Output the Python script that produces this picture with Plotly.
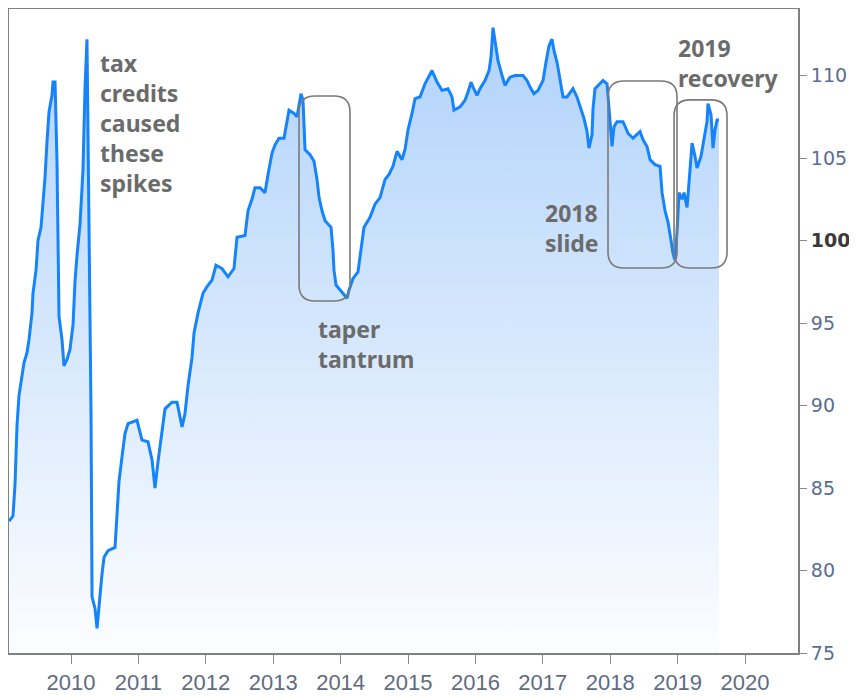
import plotly.graph_objects as go

# ---- data (decimal year, index value) ----
date_yr = [
    2009.082, 2009.139, 2009.169, 2009.184, 2009.199, 2009.228, 2009.273, 2009.303, 2009.347, 2009.377,
    2009.421, 2009.436, 2009.481, 2009.510, 2009.555, 2009.585, 2009.614, 2009.644, 2009.674, 2009.718,
    2009.733, 2009.763, 2009.792, 2009.807, 2009.822, 2009.866, 2009.896, 2009.941, 2009.985, 2010.030,
    2010.059, 2010.089, 2010.134, 2010.178, 2010.208, 2010.237, 2010.267, 2010.297, 2010.312, 2010.356,
    2010.386, 2010.430, 2010.460, 2010.490, 2010.549, 2010.653, 2010.682, 2010.712, 2010.757, 2010.801,
    2010.846, 2010.979, 2011.053, 2011.142, 2011.202, 2011.246, 2011.291, 2011.350, 2011.395, 2011.499,
    2011.573, 2011.647, 2011.691, 2011.736, 2011.795, 2011.825, 2011.884, 2011.958, 2012.018, 2012.092,
    2012.151, 2012.240, 2012.329, 2012.418, 2012.463, 2012.582, 2012.626, 2012.685, 2012.730, 2012.804,
    2012.878, 2012.923, 2012.982, 2013.027, 2013.086, 2013.160, 2013.205, 2013.234, 2013.309, 2013.353,
    2013.412, 2013.442, 2013.472, 2013.546, 2013.605, 2013.650, 2013.680, 2013.724, 2013.769, 2013.858,
    2013.887, 2013.902, 2013.932, 2014.021, 2014.095, 2014.125, 2014.184, 2014.258, 2014.303, 2014.347,
    2014.436, 2014.510, 2014.585, 2014.659, 2014.718, 2014.777, 2014.837, 2014.911, 2014.955, 2015.000,
    2015.059, 2015.104, 2015.178, 2015.252, 2015.356, 2015.430, 2015.504, 2015.593, 2015.653, 2015.682,
    2015.772, 2015.846, 2015.890, 2015.935, 2015.964, 2016.024, 2016.068, 2016.142, 2016.202, 2016.231,
    2016.261, 2016.291, 2016.335, 2016.395, 2016.439, 2016.513, 2016.588, 2016.706, 2016.766, 2016.810,
    2016.869, 2016.929, 2017.003, 2017.047, 2017.092, 2017.136, 2017.166, 2017.211, 2017.270, 2017.300,
    2017.359, 2017.448, 2017.507, 2017.567, 2017.611, 2017.656, 2017.685, 2017.730, 2017.745, 2017.774,
    2017.849, 2017.893, 2017.953, 2017.982, 2018.027, 2018.056, 2018.101, 2018.190, 2018.264, 2018.338,
    2018.398, 2018.442, 2018.487, 2018.546, 2018.591, 2018.665, 2018.739, 2018.769, 2018.813, 2018.858,
    2018.902, 2018.932, 2018.961, 2018.991, 2019.021, 2019.065, 2019.095, 2019.140, 2019.184, 2019.214,
    2019.258, 2019.288, 2019.347, 2019.392, 2019.436, 2019.451, 2019.496, 2019.525, 2019.555, 2019.585,
    2019.614,
]
index_val = [
    83.0, 83.3, 85.2, 86.9, 88.8, 90.6, 92.0, 92.6, 93.2, 94.0,
    95.6, 96.8, 98.2, 100.0, 100.8, 102.2, 103.8, 106.0, 107.8, 108.8,
    109.6, 109.6, 104.8, 100.1, 95.4, 94.0, 92.4, 92.8, 93.4, 94.9,
    97.5, 99.1, 101.0, 104.3, 109.3, 112.2, 100.8, 89.5, 78.4, 77.7,
    76.5, 78.6, 79.8, 80.8, 81.2, 81.4, 83.5, 85.4, 86.9, 88.3,
    88.9, 89.1, 87.9, 87.8, 86.7, 85.0, 86.6, 88.4, 89.8, 90.2,
    90.2, 88.7, 89.5, 91.2, 92.9, 94.4, 95.6, 96.8, 97.2, 97.6,
    98.5, 98.3, 97.8, 98.3, 100.2, 100.3, 101.8, 102.5, 103.2, 103.2,
    102.9, 104.0, 105.3, 105.8, 106.2, 106.2, 107.3, 107.9, 107.7, 107.5,
    108.9, 108.5, 105.5, 105.2, 104.8, 103.7, 102.6, 101.8, 101.2, 100.8,
    99.4, 98.2, 97.3, 96.9, 96.5, 97.0, 97.7, 98.1, 99.6, 100.8,
    101.4, 102.2, 102.6, 103.7, 104.0, 104.5, 105.4, 104.9, 105.5, 106.7,
    107.7, 108.6, 108.7, 109.5, 110.3, 109.6, 109.1, 109.2, 108.7, 107.9,
    108.1, 108.5, 109.0, 109.6, 109.3, 108.8, 109.2, 109.7, 110.3, 111.1,
    112.9, 112.0, 110.9, 110.0, 109.4, 109.9, 110.0, 110.0, 109.7, 109.3,
    108.9, 109.1, 109.7, 110.8, 111.8, 112.2, 111.5, 110.8, 109.3, 108.7,
    108.7, 109.2, 108.7, 108.0, 107.4, 106.6, 105.6, 106.4, 108.0, 109.2,
    109.5, 109.7, 109.5, 108.1, 105.7, 106.9, 107.2, 107.2, 106.5, 106.2,
    106.4, 106.6, 106.1, 105.7, 104.9, 104.6, 104.5, 102.9, 101.8, 101.1,
    100.0, 99.2, 98.8, 100.5, 102.9, 102.5, 102.9, 102.0, 104.3, 105.9,
    105.1, 104.4, 105.1, 106.1, 107.2, 108.3, 107.6, 105.6, 106.7, 107.3,
    107.3,
]

x_ticks = [2010, 2011, 2012, 2013, 2014, 2015, 2016, 2017, 2018, 2019, 2020]
x_tick_labels = [str(v) for v in x_ticks]
y_ticks = [75, 80, 85, 90, 95, 100, 105, 110]
y_tick_labels = ["75", "80", "85", "90", "95",
                 "<b><span style='color:#3a3a3a'>100</span></b>", "105", "110"]

# annotation boxes (x0, x1, y0, y1) in data units
boxes = [
    (2013.383, 2014.139, 96.33, 108.76),
    (2017.967, 2018.991, 98.33, 109.67),
    (2018.947, 2019.733, 98.33, 108.52),
]
notes = [
    (2010.40, 111.85, "tax<br>credits<br>caused<br>these<br>spikes"),
    (2013.64, 95.75, "taper<br>tantrum"),
    (2017.01, 102.75, "2018<br>slide"),
    (2018.97, 112.75, "2019<br>recovery"),
]

X_RANGE = [2009.08, 2020.786]
Y_RANGE = [75, 114.03]
# page body adds an 8px offset, so the figure is sized to the remaining viewport
W, H = 849, 688
M = dict(l=1, r=59, t=1, b=43)
PW = W - M["l"] - M["r"]
PH = H - M["t"] - M["b"]

fig = go.Figure()
fig.add_trace(go.Scatter(
    x=date_yr, y=index_val, mode="lines",
    line=dict(color="#1583fb", width=3),
    fill="tozeroy",
    fillgradient=dict(type="vertical",
                      colorscale=[[0, "#fcfdff"], [1, "#b0d2fa"]],
                      start=75, stop=113.5),
    hoverinfo="skip", showlegend=False,
))


def rounded_box(x0, x1, y0, y1, r_px):
    rx = r_px * (X_RANGE[1] - X_RANGE[0]) / PW
    ry = r_px * (Y_RANGE[1] - Y_RANGE[0]) / PH
    return (f"M {x0+rx},{y0} L {x1-rx},{y0} Q {x1},{y0} {x1},{y0+ry} "
            f"L {x1},{y1-ry} Q {x1},{y1} {x1-rx},{y1} L {x0+rx},{y1} "
            f"Q {x0},{y1} {x0},{y1-ry} L {x0},{y0+ry} Q {x0},{y0} {x0+rx},{y0} Z")


for (bx0, bx1, by0, by1) in boxes:
    fig.add_shape(type="path", xref="x", yref="y",
                  path=rounded_box(bx0, bx1, by0, by1, 16),
                  line=dict(color="#7a7a7a", width=1.6))

for (ax, ay, txt) in notes:
    fig.add_annotation(x=ax, y=ay, xref="x", yref="y", text=txt,
                       showarrow=False, xanchor="left", yanchor="top", align="left",
                       font=dict(family="Noto Sans", size=23, color="#6b6b6b", weight="bold"))

fig.update_layout(
    width=W, height=H, margin=M,
    paper_bgcolor="white", plot_bgcolor="white",
    xaxis=dict(range=X_RANGE, tickvals=x_ticks, ticktext=x_tick_labels,
               showgrid=False, zeroline=False,
               showline=True, mirror=True, linecolor="#808080", linewidth=2,
               ticks="outside", ticklen=9, tickcolor="#8a8a8a", tickwidth=1,
               tickfont=dict(family="Liberation Sans Narrow, Liberation Sans", size=22, color="#5f6b82"),
               automargin=False),
    yaxis=dict(range=Y_RANGE, side="right", tickvals=y_ticks, ticktext=y_tick_labels,
               showgrid=False, zeroline=False,
               showline=True, mirror=True, linecolor="#808080", linewidth=2,
               ticks="outside", ticklen=7, tickcolor="#8a8a8a", tickwidth=1,
               tickfont=dict(family="DejaVu Sans", size=19, color="#5b6d90"),
               automargin=False),
)

fig.write_html("out.html")
